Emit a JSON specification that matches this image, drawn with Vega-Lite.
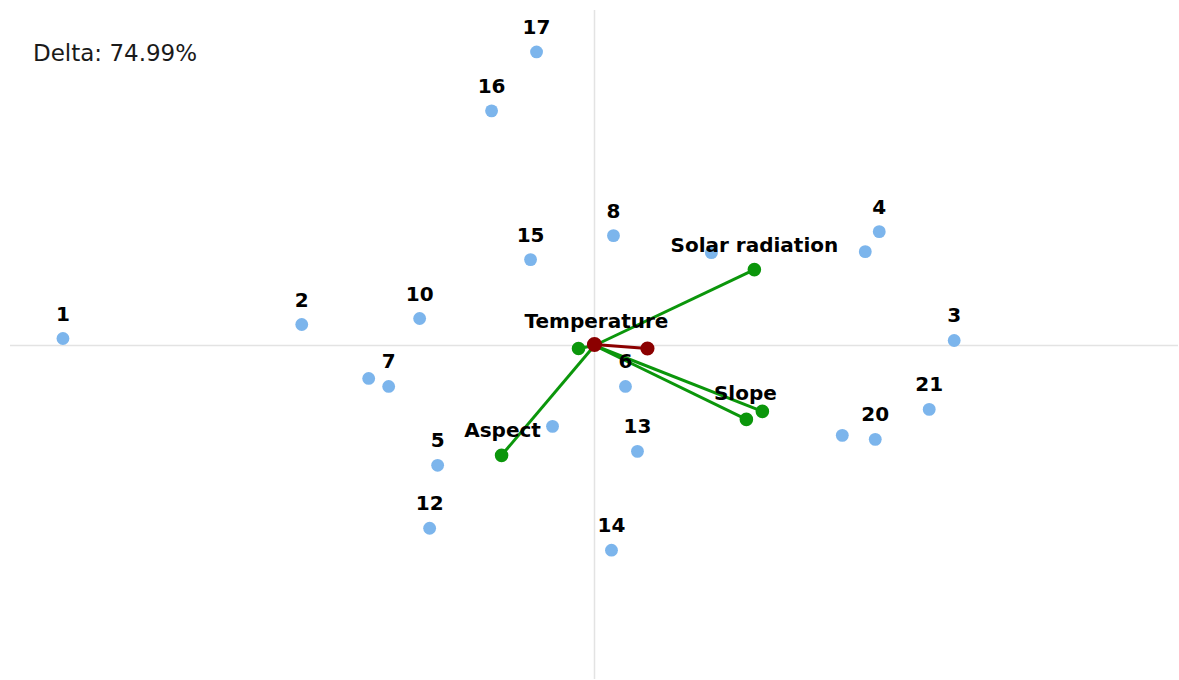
{
  "$schema": "https://vega.github.io/schema/vega-lite/v6.json",
  "autosize": {"type": "fit", "contains": "padding"},
  "width": 1179,
  "height": 680,
  "padding": 0,
  "background": "white",
  "config": {"view": {"stroke": null}},
  "datasets": {
    "points": [
      {"id": "1", "x": -5.32, "y": 0.07},
      {"id": "2", "x": -2.93, "y": 0.21},
      {"id": "10", "x": -1.75, "y": 0.27},
      {"id": "7", "x": -2.06, "y": -0.41},
      {"id": "", "x": -2.26, "y": -0.33},
      {"id": "5", "x": -1.57, "y": -1.20},
      {"id": "12", "x": -1.65, "y": -1.83},
      {"id": "15", "x": -0.64, "y": 0.86},
      {"id": "16", "x": -1.03, "y": 2.35},
      {"id": "17", "x": -0.58, "y": 2.94},
      {"id": "8", "x": 0.19, "y": 1.10},
      {"id": "", "x": 1.17, "y": 0.93},
      {"id": "4", "x": 2.85, "y": 1.14},
      {"id": "", "x": 2.71, "y": 0.94},
      {"id": "3", "x": 3.60, "y": 0.05},
      {"id": "21", "x": 3.35, "y": -0.64},
      {"id": "20", "x": 2.81, "y": -0.94},
      {"id": "", "x": 2.48, "y": -0.90},
      {"id": "6", "x": 0.31, "y": -0.41},
      {"id": "13", "x": 0.43, "y": -1.06},
      {"id": "14", "x": 0.17, "y": -2.05},
      {"id": "", "x": -0.42, "y": -0.81}
    ],
    "vectors": [
      {"name": "Solar radiation", "x0": 0, "y0": 0, "x": 1.60, "y": 0.76, "lx": 1.60, "ly": 1.00},
      {"name": "Temperature", "x0": 0, "y0": 0, "x": -0.16, "y": -0.03, "lx": 0.02, "ly": 0.24},
      {"name": "Aspect", "x0": 0, "y0": 0, "x": -0.93, "y": -1.10, "lx": -0.92, "ly": -0.86},
      {"name": "Slope", "x0": 0, "y0": 0, "x": 1.52, "y": -0.74, "lx": 1.51, "ly": -0.49},
      {"name": "", "x0": 0, "y0": 0, "x": 1.68, "y": -0.66, "lx": 1.68, "ly": -0.66}
    ],
    "red": [
      {"x0": 0, "y0": 0.01, "x": 0.53, "y": -0.03}
    ],
    "axes": [
      {"x": 0, "y": -3.34, "x2": 0, "y2": 3.36},
      {"x": -5.85, "y": 0, "x2": 5.84, "y2": 0}
    ],
    "note": [
      {"t": "Delta: 74.99%", "x": -5.62, "y": 2.915}
    ]
  },
  "layer": [
    {
      "data": {"name": "axes"},
      "mark": {"type": "rule", "color": "#e3e3e3", "strokeWidth": 1.5},
      "encoding": {
        "x": {"field": "x", "type": "quantitative", "axis": null, "scale": {"domain": [-5.95, 5.84], "nice": false, "zero": false}},
        "y": {"field": "y", "type": "quantitative", "axis": null, "scale": {"domain": [-3.34, 3.46], "nice": false, "zero": false}},
        "x2": {"field": "x2"},
        "y2": {"field": "y2"}
      }
    },
    {
      "data": {"name": "points"},
      "mark": {"type": "circle", "color": "#7cb5ec", "opacity": 1, "size": 165},
      "encoding": {
        "x": {"field": "x", "type": "quantitative", "axis": null},
        "y": {"field": "y", "type": "quantitative", "axis": null}
      }
    },
    {
      "data": {"name": "vectors"},
      "mark": {"type": "rule", "color": "#0b960b", "strokeWidth": 3},
      "encoding": {
        "x": {"field": "x0", "type": "quantitative", "axis": null},
        "y": {"field": "y0", "type": "quantitative", "axis": null},
        "x2": {"field": "x"},
        "y2": {"field": "y"}
      }
    },
    {
      "data": {"name": "vectors"},
      "mark": {"type": "circle", "color": "#0b960b", "opacity": 1, "size": 185},
      "encoding": {
        "x": {"field": "x", "type": "quantitative", "axis": null},
        "y": {"field": "y", "type": "quantitative", "axis": null}
      }
    },
    {
      "data": {"name": "red"},
      "mark": {"type": "rule", "color": "#8b0000", "strokeWidth": 3},
      "encoding": {
        "x": {"field": "x0", "type": "quantitative", "axis": null},
        "y": {"field": "y0", "type": "quantitative", "axis": null},
        "x2": {"field": "x"},
        "y2": {"field": "y"}
      }
    },
    {
      "data": {"name": "red"},
      "mark": {"type": "circle", "color": "#8b0000", "opacity": 1, "size": 200},
      "encoding": {
        "x": {"field": "x", "type": "quantitative", "axis": null},
        "y": {"field": "y", "type": "quantitative", "axis": null}
      }
    },
    {
      "data": {"name": "red"},
      "mark": {"type": "circle", "color": "#8b0000", "opacity": 1, "size": 230},
      "encoding": {
        "x": {"field": "x0", "type": "quantitative", "axis": null},
        "y": {"field": "y0", "type": "quantitative", "axis": null}
      }
    },
    {
      "data": {"name": "points"},
      "mark": {"type": "text", "font": "DejaVu Sans", "fontWeight": "bold", "fontSize": 20, "color": "#000", "dy": -24, "baseline": "middle", "align": "center"},
      "encoding": {
        "x": {"field": "x", "type": "quantitative", "axis": null},
        "y": {"field": "y", "type": "quantitative", "axis": null},
        "text": {"field": "id"}
      }
    },
    {
      "data": {"name": "vectors"},
      "mark": {"type": "text", "font": "DejaVu Sans", "fontWeight": "bold", "fontSize": 20, "color": "#000", "baseline": "middle", "align": "center"},
      "encoding": {
        "x": {"field": "lx", "type": "quantitative", "axis": null},
        "y": {"field": "ly", "type": "quantitative", "axis": null},
        "text": {"field": "name"}
      }
    },
    {
      "data": {"name": "note"},
      "mark": {"type": "text", "font": "DejaVu Sans", "fontSize": 23, "color": "#1a1a1a", "baseline": "middle", "align": "left"},
      "encoding": {
        "x": {"field": "x", "type": "quantitative", "axis": null},
        "y": {"field": "y", "type": "quantitative", "axis": null},
        "text": {"field": "t"}
      }
    }
  ]
}
